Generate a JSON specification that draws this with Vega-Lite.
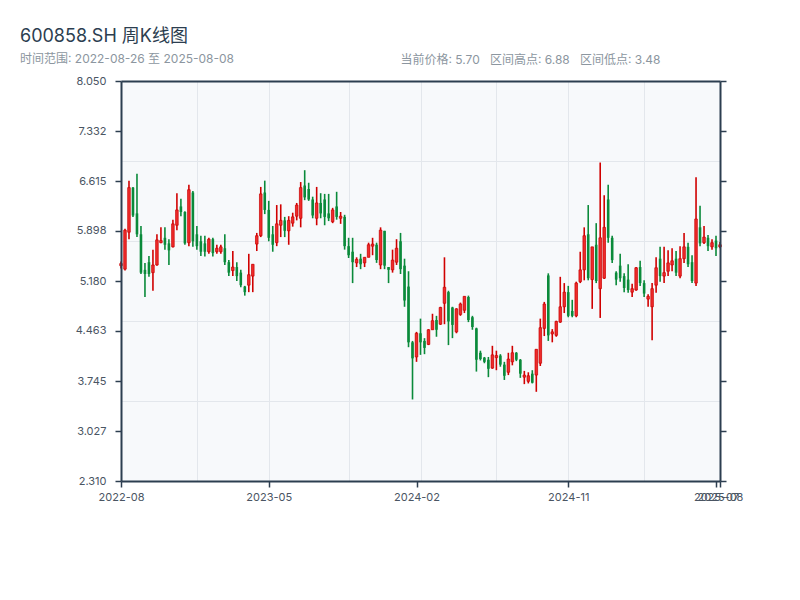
{
  "$schema": "https://vega.github.io/schema/vega-lite/v6.json",
  "width": 599,
  "height": 400,
  "autosize": "none",
  "padding": {"left": 121, "top": 81, "right": 80, "bottom": 119},
  "background": "white",
  "title": {
    "text": "600858.SH 周K线图",
    "subtitle": "时间范围: 2022-08-26 至 2025-08-08",
    "anchor": "start",
    "frame": "group",
    "dx": -101,
    "dy": 16,
    "offset": 4,
    "fontSize": 18,
    "fontWeight": "normal",
    "color": "#2c3e50",
    "subtitleFontSize": 12,
    "subtitleColor": "#8c96a0",
    "subtitlePadding": 8
  },
  "config": {
    "font": "Inter, Noto Sans CJK SC, sans-serif",
    "view": {"fill": "#f7f9fb", "stroke": null}
  },
  "data": {"values": [
    {"date": "2022-08-22", "open": 5.40, "high": 5.46, "low": 5.36, "close": 5.43},
    {"date": "2022-08-29", "open": 5.35, "high": 5.93, "low": 5.33, "close": 5.91},
    {"date": "2022-09-05", "open": 5.88, "high": 6.62, "low": 5.78, "close": 6.52},
    {"date": "2022-09-12", "open": 6.52, "high": 6.53, "low": 6.10, "close": 6.12},
    {"date": "2022-09-19", "open": 6.15, "high": 6.72, "low": 5.81, "close": 5.85},
    {"date": "2022-09-26", "open": 5.85, "high": 5.97, "low": 5.28, "close": 5.30},
    {"date": "2022-10-10", "open": 5.34, "high": 5.44, "low": 4.95, "close": 5.28},
    {"date": "2022-10-17", "open": 5.45, "high": 5.54, "low": 5.24, "close": 5.28},
    {"date": "2022-10-24", "open": 5.30, "high": 5.63, "low": 5.04, "close": 5.41},
    {"date": "2022-10-31", "open": 5.41, "high": 5.85, "low": 5.40, "close": 5.77},
    {"date": "2022-11-07", "open": 5.73, "high": 5.95, "low": 5.72, "close": 5.76},
    {"date": "2022-11-14", "open": 5.80, "high": 5.95, "low": 5.63, "close": 5.70},
    {"date": "2022-11-21", "open": 5.72, "high": 5.78, "low": 5.41, "close": 5.62},
    {"date": "2022-11-28", "open": 5.67, "high": 6.06, "low": 5.66, "close": 6.00},
    {"date": "2022-12-05", "open": 5.98, "high": 6.44, "low": 5.91, "close": 6.20},
    {"date": "2022-12-12", "open": 6.25, "high": 6.36, "low": 6.11, "close": 6.17},
    {"date": "2022-12-19", "open": 6.17, "high": 6.18, "low": 5.70, "close": 5.72},
    {"date": "2022-12-26", "open": 5.73, "high": 6.56, "low": 5.68, "close": 6.49},
    {"date": "2023-01-02", "open": 6.45, "high": 6.47, "low": 5.67, "close": 5.75},
    {"date": "2023-01-09", "open": 5.85, "high": 5.97, "low": 5.63, "close": 5.68},
    {"date": "2023-01-16", "open": 5.75, "high": 5.83, "low": 5.54, "close": 5.60},
    {"date": "2023-01-30", "open": 5.72, "high": 5.83, "low": 5.53, "close": 5.60},
    {"date": "2023-02-06", "open": 5.60, "high": 5.80, "low": 5.57, "close": 5.78},
    {"date": "2023-02-13", "open": 5.78, "high": 5.80, "low": 5.53, "close": 5.58},
    {"date": "2023-02-20", "open": 5.60, "high": 5.70, "low": 5.57, "close": 5.65},
    {"date": "2023-02-27", "open": 5.60, "high": 5.70, "low": 5.57, "close": 5.67},
    {"date": "2023-03-06", "open": 5.65, "high": 5.85, "low": 5.41, "close": 5.45},
    {"date": "2023-03-13", "open": 5.45, "high": 5.48, "low": 5.25, "close": 5.30},
    {"date": "2023-03-20", "open": 5.33, "high": 5.61, "low": 5.25, "close": 5.38},
    {"date": "2023-03-27", "open": 5.38, "high": 5.45, "low": 5.18, "close": 5.25},
    {"date": "2023-04-03", "open": 5.30, "high": 5.34, "low": 5.09, "close": 5.12},
    {"date": "2023-04-10", "open": 5.10, "high": 5.11, "low": 4.97, "close": 5.02},
    {"date": "2023-04-17", "open": 5.12, "high": 5.57, "low": 5.02, "close": 5.27},
    {"date": "2023-04-24", "open": 5.25, "high": 5.42, "low": 5.02, "close": 5.42},
    {"date": "2023-05-01", "open": 5.71, "high": 5.87, "low": 5.61, "close": 5.83},
    {"date": "2023-05-08", "open": 5.83, "high": 6.53, "low": 5.81, "close": 6.43},
    {"date": "2023-05-15", "open": 6.45, "high": 6.62, "low": 6.14, "close": 6.20},
    {"date": "2023-05-22", "open": 6.20, "high": 6.33, "low": 5.75, "close": 5.80},
    {"date": "2023-05-29", "open": 5.85, "high": 5.97, "low": 5.60, "close": 5.70},
    {"date": "2023-06-05", "open": 5.73, "high": 6.27, "low": 5.68, "close": 6.00},
    {"date": "2023-06-12", "open": 5.98, "high": 6.28, "low": 5.81, "close": 6.05},
    {"date": "2023-06-19", "open": 6.05, "high": 6.10, "low": 5.81, "close": 5.90},
    {"date": "2023-06-26", "open": 5.90, "high": 6.11, "low": 5.70, "close": 6.05},
    {"date": "2023-07-03", "open": 6.01, "high": 6.16, "low": 5.96, "close": 6.10},
    {"date": "2023-07-10", "open": 6.11, "high": 6.30, "low": 6.05, "close": 6.27},
    {"date": "2023-07-17", "open": 6.08, "high": 6.60, "low": 5.95, "close": 6.52},
    {"date": "2023-07-24", "open": 6.55, "high": 6.77, "low": 6.34, "close": 6.38},
    {"date": "2023-07-31", "open": 6.50, "high": 6.59, "low": 6.33, "close": 6.35},
    {"date": "2023-08-07", "open": 6.35, "high": 6.39, "low": 6.08, "close": 6.12},
    {"date": "2023-08-14", "open": 6.08, "high": 6.53, "low": 5.98, "close": 6.30},
    {"date": "2023-08-21", "open": 6.30, "high": 6.44, "low": 6.08, "close": 6.15},
    {"date": "2023-08-28", "open": 6.35, "high": 6.43, "low": 5.98, "close": 6.10},
    {"date": "2023-09-04", "open": 6.15, "high": 6.43, "low": 6.04, "close": 6.08},
    {"date": "2023-09-11", "open": 6.03, "high": 6.23, "low": 6.01, "close": 6.20},
    {"date": "2023-09-18", "open": 6.25, "high": 6.46, "low": 6.06, "close": 6.10},
    {"date": "2023-09-25", "open": 6.08, "high": 6.17, "low": 6.00, "close": 6.11},
    {"date": "2023-10-09", "open": 6.10, "high": 6.13, "low": 5.63, "close": 5.68},
    {"date": "2023-10-16", "open": 5.68, "high": 5.80, "low": 5.51, "close": 5.55},
    {"date": "2023-10-23", "open": 5.60, "high": 5.80, "low": 5.15, "close": 5.45},
    {"date": "2023-10-30", "open": 5.44, "high": 5.52, "low": 5.38, "close": 5.49},
    {"date": "2023-11-06", "open": 5.50, "high": 5.57, "low": 5.35, "close": 5.42},
    {"date": "2023-11-13", "open": 5.44, "high": 5.52, "low": 5.38, "close": 5.52},
    {"date": "2023-11-20", "open": 5.52, "high": 5.73, "low": 5.52, "close": 5.70},
    {"date": "2023-11-27", "open": 5.68, "high": 5.80, "low": 5.55, "close": 5.71},
    {"date": "2023-12-04", "open": 5.70, "high": 5.73, "low": 5.44, "close": 5.48},
    {"date": "2023-12-11", "open": 5.41, "high": 5.95, "low": 5.35, "close": 5.91},
    {"date": "2023-12-18", "open": 5.90, "high": 5.90, "low": 5.35, "close": 5.40},
    {"date": "2023-12-25", "open": 5.38, "high": 5.38, "low": 5.15, "close": 5.34},
    {"date": "2024-01-01", "open": 5.34, "high": 5.63, "low": 5.30, "close": 5.48},
    {"date": "2024-01-08", "open": 5.45, "high": 5.78, "low": 5.41, "close": 5.65},
    {"date": "2024-01-15", "open": 5.75, "high": 5.87, "low": 5.28, "close": 5.35},
    {"date": "2024-01-22", "open": 5.40, "high": 5.50, "low": 4.81, "close": 4.90},
    {"date": "2024-01-29", "open": 5.10, "high": 5.32, "low": 4.23, "close": 4.30},
    {"date": "2024-02-05", "open": 4.30, "high": 4.32, "low": 3.48, "close": 4.07},
    {"date": "2024-02-19", "open": 4.09, "high": 4.45, "low": 4.02, "close": 4.43},
    {"date": "2024-02-26", "open": 4.43, "high": 4.64, "low": 4.12, "close": 4.30},
    {"date": "2024-03-04", "open": 4.32, "high": 4.36, "low": 4.13, "close": 4.22},
    {"date": "2024-03-11", "open": 4.27, "high": 4.49, "low": 4.26, "close": 4.48},
    {"date": "2024-03-18", "open": 4.48, "high": 4.71, "low": 4.48, "close": 4.61},
    {"date": "2024-03-25", "open": 4.62, "high": 4.68, "low": 4.38, "close": 4.48},
    {"date": "2024-04-01", "open": 4.56, "high": 4.81, "low": 4.55, "close": 4.80},
    {"date": "2024-04-08", "open": 4.86, "high": 5.52, "low": 4.56, "close": 5.09},
    {"date": "2024-04-15", "open": 5.02, "high": 5.04, "low": 4.26, "close": 4.60},
    {"date": "2024-04-22", "open": 4.80, "high": 4.81, "low": 4.36, "close": 4.55},
    {"date": "2024-04-29", "open": 4.45, "high": 4.79, "low": 4.43, "close": 4.78},
    {"date": "2024-05-06", "open": 4.70, "high": 4.87, "low": 4.68, "close": 4.85},
    {"date": "2024-05-13", "open": 4.76, "high": 4.96, "low": 4.72, "close": 4.96},
    {"date": "2024-05-20", "open": 4.95, "high": 4.97, "low": 4.59, "close": 4.62},
    {"date": "2024-05-27", "open": 4.66, "high": 4.68, "low": 4.48, "close": 4.52},
    {"date": "2024-06-03", "open": 4.50, "high": 4.51, "low": 3.88, "close": 4.05},
    {"date": "2024-06-10", "open": 4.15, "high": 4.18, "low": 4.04, "close": 4.06},
    {"date": "2024-06-17", "open": 4.08, "high": 4.09, "low": 4.00, "close": 4.02},
    {"date": "2024-06-24", "open": 4.05, "high": 4.09, "low": 3.80, "close": 3.92},
    {"date": "2024-07-01", "open": 3.93, "high": 4.25, "low": 3.92, "close": 4.12},
    {"date": "2024-07-08", "open": 4.08, "high": 4.18, "low": 3.90, "close": 4.11},
    {"date": "2024-07-15", "open": 4.11, "high": 4.13, "low": 3.95, "close": 3.98},
    {"date": "2024-07-22", "open": 3.98, "high": 4.02, "low": 3.76, "close": 3.82},
    {"date": "2024-07-29", "open": 3.87, "high": 4.15, "low": 3.83, "close": 4.06},
    {"date": "2024-08-05", "open": 4.02, "high": 4.25, "low": 3.97, "close": 4.15},
    {"date": "2024-08-12", "open": 4.15, "high": 4.16, "low": 4.03, "close": 4.05},
    {"date": "2024-08-19", "open": 4.05, "high": 4.06, "low": 3.79, "close": 3.85},
    {"date": "2024-08-26", "open": 3.80, "high": 3.89, "low": 3.70, "close": 3.83},
    {"date": "2024-09-02", "open": 3.74, "high": 3.87, "low": 3.71, "close": 3.82},
    {"date": "2024-09-09", "open": 3.85, "high": 3.90, "low": 3.71, "close": 3.72},
    {"date": "2024-09-16", "open": 3.83, "high": 4.20, "low": 3.59, "close": 4.20},
    {"date": "2024-09-23", "open": 4.00, "high": 4.64, "low": 3.96, "close": 4.51},
    {"date": "2024-09-30", "open": 4.50, "high": 4.88, "low": 4.39, "close": 4.85},
    {"date": "2024-10-07", "open": 5.26, "high": 5.29, "low": 4.32, "close": 4.40},
    {"date": "2024-10-14", "open": 4.42, "high": 4.49, "low": 4.30, "close": 4.45},
    {"date": "2024-10-21", "open": 4.40, "high": 4.61, "low": 4.38, "close": 4.60},
    {"date": "2024-10-28", "open": 4.59, "high": 5.24, "low": 4.58, "close": 4.81},
    {"date": "2024-11-04", "open": 4.81, "high": 5.15, "low": 4.72, "close": 5.02},
    {"date": "2024-11-11", "open": 5.02, "high": 5.11, "low": 4.66, "close": 4.68},
    {"date": "2024-11-18", "open": 4.75, "high": 4.91, "low": 4.66, "close": 4.68},
    {"date": "2024-11-25", "open": 4.68, "high": 5.17, "low": 4.66, "close": 5.15},
    {"date": "2024-12-02", "open": 5.17, "high": 5.60, "low": 5.15, "close": 5.34},
    {"date": "2024-12-09", "open": 5.34, "high": 5.95, "low": 5.19, "close": 5.83},
    {"date": "2024-12-16", "open": 5.85, "high": 6.27, "low": 5.19, "close": 5.22},
    {"date": "2024-12-23", "open": 5.20, "high": 5.67, "low": 4.78, "close": 5.67},
    {"date": "2024-12-30", "open": 5.70, "high": 6.01, "low": 5.15, "close": 5.18},
    {"date": "2025-01-06", "open": 5.07, "high": 6.88, "low": 4.65, "close": 5.80},
    {"date": "2025-01-13", "open": 5.22, "high": 6.41, "low": 5.21, "close": 5.95},
    {"date": "2025-01-20", "open": 6.35, "high": 6.56, "low": 5.73, "close": 5.80},
    {"date": "2025-01-27", "open": 5.80, "high": 5.83, "low": 5.44, "close": 5.48},
    {"date": "2025-02-03", "open": 5.30, "high": 5.32, "low": 5.12, "close": 5.20},
    {"date": "2025-02-10", "open": 5.40, "high": 5.57, "low": 5.17, "close": 5.22},
    {"date": "2025-02-17", "open": 5.25, "high": 5.29, "low": 5.02, "close": 5.08},
    {"date": "2025-02-24", "open": 5.20, "high": 5.42, "low": 5.01, "close": 5.05},
    {"date": "2025-03-03", "open": 5.02, "high": 5.14, "low": 4.95, "close": 5.07},
    {"date": "2025-03-10", "open": 5.05, "high": 5.38, "low": 5.04, "close": 5.37},
    {"date": "2025-03-17", "open": 5.38, "high": 5.47, "low": 5.11, "close": 5.15},
    {"date": "2025-03-24", "open": 5.15, "high": 5.19, "low": 4.95, "close": 5.00},
    {"date": "2025-03-31", "open": 4.92, "high": 4.99, "low": 4.81, "close": 4.96},
    {"date": "2025-04-07", "open": 4.81, "high": 5.15, "low": 4.33, "close": 5.07},
    {"date": "2025-04-14", "open": 5.12, "high": 5.52, "low": 5.01, "close": 5.37},
    {"date": "2025-04-21", "open": 5.50, "high": 5.67, "low": 5.17, "close": 5.25},
    {"date": "2025-04-28", "open": 5.25, "high": 5.67, "low": 5.15, "close": 5.30},
    {"date": "2025-05-05", "open": 5.32, "high": 5.62, "low": 5.25, "close": 5.44},
    {"date": "2025-05-12", "open": 5.41, "high": 5.65, "low": 5.32, "close": 5.47},
    {"date": "2025-05-19", "open": 5.50, "high": 5.61, "low": 5.25, "close": 5.30},
    {"date": "2025-05-26", "open": 5.25, "high": 5.68, "low": 5.22, "close": 5.50},
    {"date": "2025-06-02", "open": 5.50, "high": 5.87, "low": 5.44, "close": 5.67},
    {"date": "2025-06-09", "open": 5.67, "high": 5.73, "low": 5.38, "close": 5.42},
    {"date": "2025-06-16", "open": 5.45, "high": 5.55, "low": 5.15, "close": 5.18},
    {"date": "2025-06-23", "open": 5.15, "high": 6.67, "low": 5.11, "close": 6.07},
    {"date": "2025-06-30", "open": 5.95, "high": 6.26, "low": 5.68, "close": 5.72},
    {"date": "2025-07-07", "open": 5.73, "high": 5.97, "low": 5.71, "close": 5.81},
    {"date": "2025-07-14", "open": 5.80, "high": 5.84, "low": 5.61, "close": 5.68},
    {"date": "2025-07-21", "open": 5.67, "high": 5.78, "low": 5.63, "close": 5.73},
    {"date": "2025-07-28", "open": 5.76, "high": 5.83, "low": 5.54, "close": 5.65},
    {"date": "2025-08-04", "open": 5.67, "high": 5.74, "low": 5.65, "close": 5.70}
  ]},
  "layer": [
    {
      "mark": {"type": "rule", "strokeWidth": 1.6},
      "encoding": {
        "x": {
          "field": "date", "type": "ordinal",
          "scale": {"type": "point", "padding": 0},
          "axis": {
            "orient": "bottom",
            "values": ["2022-08-22", "2023-05-22", "2024-02-19", "2024-11-11", "2025-07-28", "2025-08-04"],
            "labelExpr": "substring(datum.label, 0, 7)",
            "labelAngle": 0, "labelOverlap": false, "labelBound": false,
            "grid": false, "title": null,
            "domain": true, "domainColor": "#2c3e50", "domainWidth": 2,
            "ticks": true, "tickColor": "#2c3e50", "tickWidth": 1.5, "tickSize": 6,
            "labelColor": "#4a5563", "labelFontSize": 11, "labelPadding": 4,
            "zindex": 2
          }
        },
        "y": {
          "field": "low", "type": "quantitative",
          "scale": {"domain": [2.31, 8.05], "nice": false, "zero": false},
          "axis": {
            "orient": "left",
            "values": [2.31, 3.027, 3.745, 4.463, 5.18, 5.898, 6.615, 7.332, 8.05],
            "format": ".3f", "grid": false, "title": null,
            "domainColor": "#2c3e50", "domainWidth": 2,
            "tickColor": "#2c3e50", "tickWidth": 1.5, "tickSize": 6,
            "labelColor": "#4a5563", "labelFontSize": 11, "labelPadding": 9,
            "zindex": 2
          }
        },
        "y2": {"field": "high"},
        "color": {"condition": {"test": "datum.close >= datum.open", "value": "#d00000"}, "value": "#0a8a3a"}
      }
    },
    {
      "transform": [{"filter": "datum.close < datum.open"}],
      "mark": {"type": "bar", "width": 2.6, "color": "#0a8a3a"},
      "encoding": {
        "x": {
          "field": "date", "type": "ordinal",
          "axis": {
            "orient": "bottom",
            "values": ["2023-01-09", "2023-05-22", "2023-10-16", "2024-02-26", "2024-07-08", "2024-11-11", "2025-03-24"],
            "grid": true, "gridColor": "#e3e7ec", "gridWidth": 1,
            "labels": false, "ticks": false, "domain": false, "title": null, "zindex": 0
          }
        },
        "y": {
          "field": "open", "type": "quantitative",
          "axis": {
            "orient": "left",
            "values": [3.458, 4.606, 5.754, 6.902],
            "grid": true, "gridColor": "#e3e7ec", "gridWidth": 1,
            "labels": false, "ticks": false, "domain": false, "title": null, "zindex": 0
          }
        },
        "y2": {"field": "close"}
      }
    },
    {
      "transform": [{"filter": "datum.close >= datum.open"}],
      "mark": {"type": "bar", "width": 2.6, "fill": "#ee2b2b", "stroke": "#c80000", "strokeWidth": 0.7},
      "encoding": {
        "x": {
          "field": "date", "type": "ordinal",
          "axis": {
            "orient": "top",
            "labels": false, "ticks": false, "grid": false,
            "domain": true, "domainColor": "#2c3e50", "domainWidth": 2,
            "title": "当前价格: 5.70\u00a0\u00a0 区间高点: 6.88\u00a0\u00a0 区间低点: 3.48",
            "titleX": 279, "titleY": -18,
            "titleAlign": "left", "titleBaseline": "alphabetic", "titleAngle": 0,
            "titleFontSize": 12, "titleFontWeight": "normal", "titleColor": "#8c96a0",
            "zindex": 2
          }
        },
        "y": {
          "field": "open", "type": "quantitative",
          "axis": {
            "orient": "right",
            "values": [2.31, 3.027, 3.745, 4.463, 5.18, 5.898, 6.615, 7.332, 8.05],
            "labels": false, "grid": false, "title": null,
            "domainColor": "#2c3e50", "domainWidth": 2,
            "tickColor": "#2c3e50", "tickWidth": 1.5, "tickSize": 6,
            "zindex": 2
          }
        },
        "y2": {"field": "close"}
      }
    }
  ],
  "resolve": {"axis": {"x": "independent", "y": "independent"}}
}
